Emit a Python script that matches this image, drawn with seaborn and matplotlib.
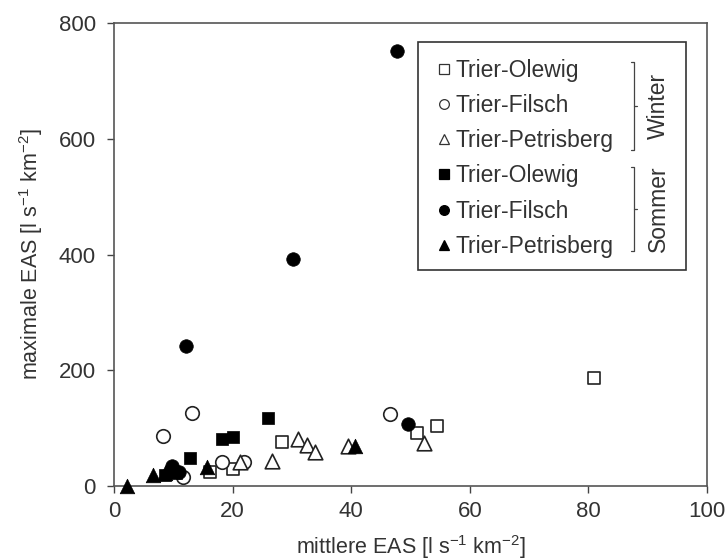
import matplotlib
matplotlib.use("Agg")
import matplotlib.pyplot as plt
from matplotlib.lines import Line2D
from matplotlib.patches import Rectangle
import seaborn as sns
import pandas as pd

# Mean vs. maximum runoff yield (EAS) per catchment and season
stations = ["Trier-Olewig", "Trier-Filsch", "Trier-Petrisberg"]
seasons = ["Winter", "Sommer"]

winter_olewig_mean = [16.2, 20.1, 28.3, 51.1, 54.4, 81.0]
winter_olewig_max = [24, 30, 76, 91, 104, 186]

winter_filsch_mean = [8.3, 11.6, 13.1, 18.2, 21.9, 46.5]
winter_filsch_max = [86, 16, 126, 41, 42, 124]

winter_petrisberg_mean = [21.2, 26.6, 31.0, 32.5, 33.9, 39.5, 52.3]
winter_petrisberg_max = [41, 44, 81, 71, 59, 69, 74]

sommer_olewig_mean = [8.6, 10.4, 12.8, 18.2, 20.1, 26.0]
sommer_olewig_max = [19, 22, 48, 81, 84, 117]

sommer_filsch_mean = [9.8, 11.0, 12.1, 30.2, 47.7, 49.6]
sommer_filsch_max = [35, 25, 242, 392, 751, 108]

sommer_petrisberg_mean = [2.2, 6.6, 8.6, 15.7, 40.6]
sommer_petrisberg_max = [0, 20, 23, 33, 70]

series = [
    ("Winter", "Trier-Olewig", winter_olewig_mean, winter_olewig_max),
    ("Winter", "Trier-Filsch", winter_filsch_mean, winter_filsch_max),
    ("Winter", "Trier-Petrisberg", winter_petrisberg_mean, winter_petrisberg_max),
    ("Sommer", "Trier-Olewig", sommer_olewig_mean, sommer_olewig_max),
    ("Sommer", "Trier-Filsch", sommer_filsch_mean, sommer_filsch_max),
    ("Sommer", "Trier-Petrisberg", sommer_petrisberg_mean, sommer_petrisberg_max),
]

rows = []
for season, station, xs, ys in series:
    for x, y in zip(xs, ys):
        rows.append({"Saison": season, "Station": station,
                     "mittlere": x, "maximale": y})
df = pd.DataFrame(rows)

sns.set_theme(style="ticks")
plt.rcParams["font.family"] = ["Liberation Sans", "DejaVu Sans"]
plt.rcParams["mathtext.fontset"] = "custom"
plt.rcParams["mathtext.rm"] = "Liberation Sans"

INK = "#333333"
markers = {"Trier-Olewig": "s", "Trier-Filsch": "o", "Trier-Petrisberg": "^"}
sizes = {"Trier-Olewig": 85, "Trier-Filsch": 95, "Trier-Petrisberg": 110}

fig = plt.figure(figsize=(7.26, 5.6), dpi=100)
ax = fig.add_axes([0.157, 0.132, 0.817, 0.827])

for season in seasons:
    for station in stations:
        sub = df[(df["Saison"] == season) & (df["Station"] == station)]
        filled = season == "Sommer"
        sns.scatterplot(
            data=sub, x="mittlere", y="maximale", ax=ax,
            marker=markers[station], s=sizes[station],
            color="black" if filled else "white",
            edgecolor="black" if filled else "#222222",
            linewidth=0.5 if filled else 1.2,
            zorder=4 if filled else 3, legend=False, clip_on=False,
        )

ax.set_xlim(0, 100)
ax.set_ylim(0, 800)
ax.set_xticks([0, 20, 40, 60, 80, 100])
ax.set_yticks([0, 200, 400, 600, 800])
ax.tick_params(axis="both", direction="out", length=5, width=1,
               colors="#444444", labelsize=16, labelcolor=INK)
ax.tick_params(axis="y", pad=8)
ax.tick_params(axis="x", pad=6)
for sp in ax.spines.values():
    sp.set_color("#555555")
    sp.set_linewidth(1.2)

ax.set_xlabel(r"mittlere EAS [l s$^{\mathregular{-1}}$ km$^{\mathregular{-2}}$]",
              fontsize=15.5, color=INK, labelpad=8)
ax.set_ylabel(r"maximale EAS [l s$^{\mathregular{-1}}$ km$^{\mathregular{-2}}$]",
              fontsize=15.5, color=INK, labelpad=10)

# Legend: entries without frame, framed box and season braces drawn separately
handles = []
for season in seasons:
    filled = season == "Sommer"
    for station in stations:
        handles.append(Line2D([], [], linestyle="none", marker=markers[station],
                              markersize=7 if station != "Trier-Petrisberg" else 7.5,
                              markerfacecolor="black" if filled else "white",
                              markeredgecolor="black" if filled else "#333333",
                              markeredgewidth=0.9, label=station))
leg = ax.legend(handles=handles, loc="upper left",
                bbox_to_anchor=(0.53, 0.942), frameon=False,
                fontsize=16.5, handlelength=0.6, handletextpad=0.2,
                labelspacing=0.53, borderaxespad=0, labelcolor=INK)
leg.set_zorder(6)

ax.add_patch(Rectangle((0.513, 0.467), 0.452, 0.492, transform=ax.transAxes,
                       facecolor="white", edgecolor="#333333", linewidth=1.2,
                       zorder=5, clip_on=False))

def brace(y_top_px, y_bot_px, label):
    x0 = (631 - 114) / 593
    x1 = (634 - 114) / 593
    x2 = (637 - 114) / 593
    yt = (486 - y_top_px) / 463
    yb = (486 - y_bot_px) / 463
    ym = (yt + yb) / 2
    kw = dict(transform=ax.transAxes, color="#444444", linewidth=0.9,
              zorder=7, clip_on=False)
    ax.plot([x0, x1, x1, x0], [yt, yt, yb, yb], **kw)
    ax.plot([x1, x2], [ym, ym], **kw)
    ax.text((658 - 114) / 593, ym, label, rotation=90, ha="center",
            va="center", fontsize=16.5, color=INK, transform=ax.transAxes,
            zorder=7)

brace(62, 150, "Winter")
brace(167, 251, "Sommer")

fig.savefig("out.png", dpi=100)
